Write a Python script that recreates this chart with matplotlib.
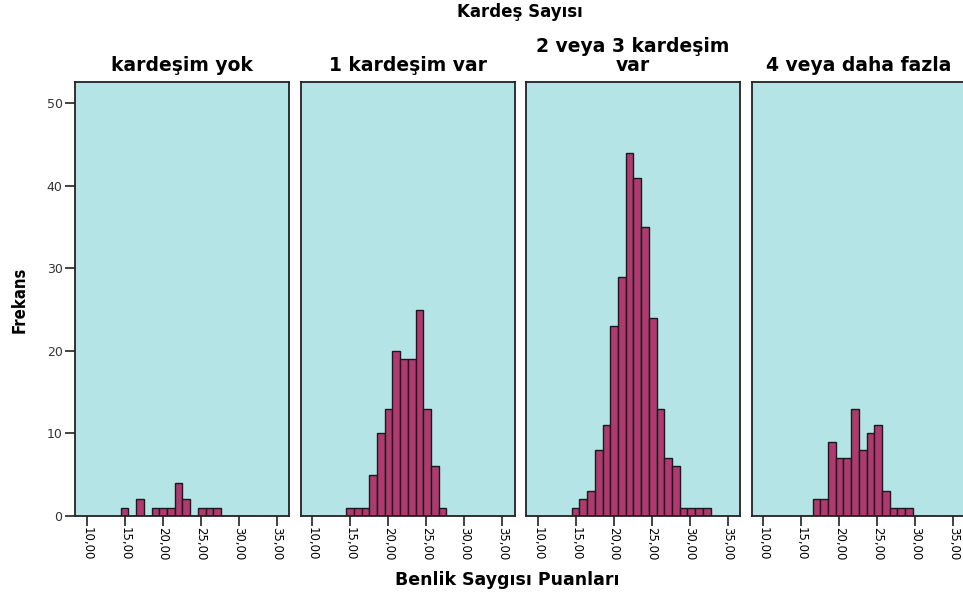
import matplotlib
matplotlib.use("Agg")
import matplotlib.pyplot as plt
import numpy as np

# histogram of self-esteem scores per number-of-siblings group (SPSS style)
panel_titles = ["kardeşim yok", "1 kardeşim var", "2 veya 3 kardeşim\nvar", "4 veya daha fazla"]
bin_start = 14.47
bin_width = 1.014
# counts for bins centred on 15, 16, ..., 32
counts_yok = [1, 0, 2, 0, 1, 1, 1, 4, 2, 0, 1, 1, 1, 0, 0, 0, 0, 0]
counts_1 = [1, 1, 1, 5, 10, 13, 20, 19, 19, 25, 13, 6, 1, 0, 0, 0, 0, 0]
counts_2_3 = [1, 2, 3, 8, 11, 23, 29, 44, 41, 35, 24, 13, 7, 6, 1, 1, 1, 1]
counts_4plus = [0, 0, 2, 2, 9, 7, 7, 13, 8, 10, 11, 3, 1, 1, 1, 0, 0, 0]
all_counts = [counts_yok, counts_1, counts_2_3, counts_4plus]

x_ticks = [10, 15, 20, 25, 30, 35]
x_ticklabels = ["10,00", "15,00", "20,00", "25,00", "30,00", "35,00"]
y_ticks = [0, 10, 20, 30, 40, 50]

bg = "#B4E4E6"
bar_color = "#AE3A70"

W, H = 963, 597
fig = plt.figure(figsize=(W / 100, H / 100), dpi=100)

left0 = 75
pw = 214
step = 225.5
top_px, bottom_px = 82, 516

edges = bin_start + bin_width * np.arange(len(counts_yok) + 1)

axes = []
for i, (title, counts) in enumerate(zip(panel_titles, all_counts)):
    ax = fig.add_axes([(left0 + i * step) / W, 1 - bottom_px / H, pw / W, (bottom_px - top_px) / H])
    ax.set_facecolor(bg)
    ax.bar(edges[:-1], counts, width=bin_width, align="edge",
           color=bar_color, edgecolor="#1a1a1a", linewidth=1.0, zorder=2)
    ax.set_xlim(8.46, 36.6)
    ax.set_ylim(0, 52.6)
    ax.set_xticks(x_ticks)
    ax.set_xticklabels(x_ticklabels, rotation=270, fontsize=8.5, family="DejaVu Sans")
    ax.tick_params(axis="x", length=7, width=1.2, pad=1, color="#222222")
    for sp in ax.spines.values():
        sp.set_linewidth(1.3)
        sp.set_color("#222222")
    if i == 0:
        ax.set_yticks(y_ticks)
        ax.set_yticklabels([str(v) for v in y_ticks], fontsize=9, color="#333333")
        ax.tick_params(axis="y", length=7, width=1.2, pad=2, color="#222222")
    else:
        ax.set_yticks([])
    ax.set_title(title, fontsize=13.5, fontweight="bold", pad=8, linespacing=1.0)
    axes.append(ax)

fig.text(520 / W, 1 - 17 / H, "Kardeş Sayısı", ha="center", va="baseline",
         fontsize=12, fontweight="bold")
fig.text(507 / W, 1 - 585 / H, "Benlik Saygısı Puanları", ha="center", va="baseline",
         fontsize=12.5, fontweight="bold")
fig.text(20 / W, 1 - 300 / H, "Frekans", ha="center", va="center", rotation=90,
         fontsize=12, fontweight="bold", fontstretch="condensed")

fig.savefig("out.png", dpi=100, facecolor="white")
